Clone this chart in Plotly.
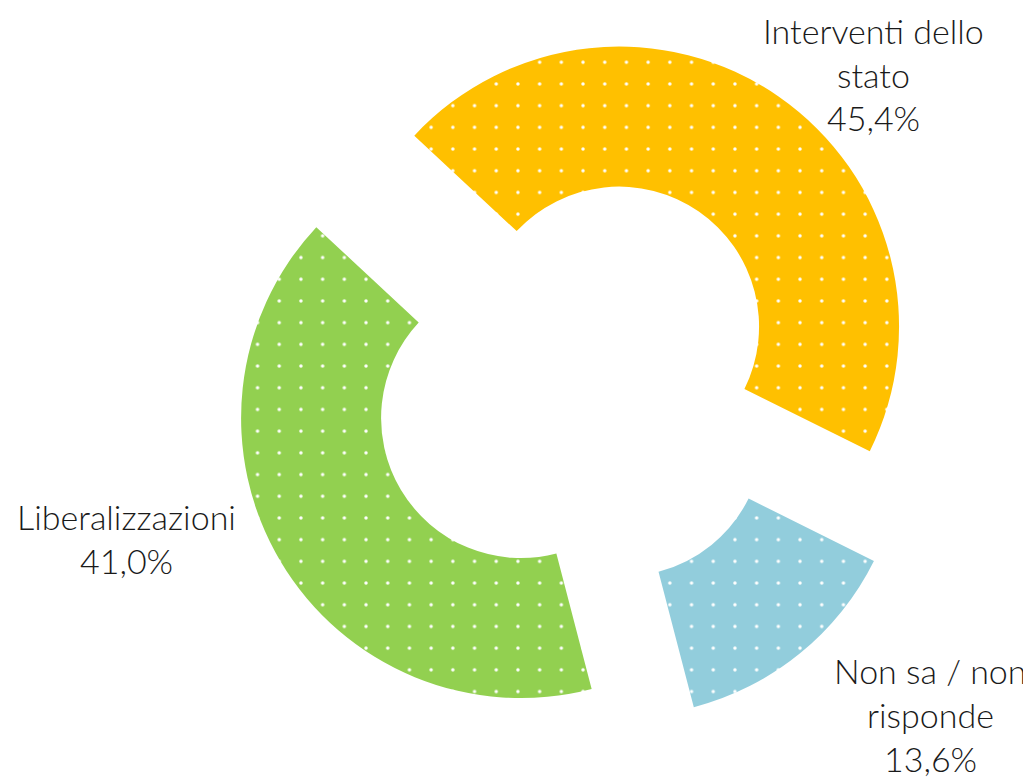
import plotly.graph_objects as go

# ---- data ----
categories = ["Interventi dello stato", "Non sa / non risponde", "Liberalizzazioni"]
label_lines = ["Interventi dello<br>stato", "Non sa / non<br>risponde", "Liberalizzazioni"]
values = [45.4, 13.6, 41.0]
colors = ["#FFC000", "#92CDDC", "#92D050"]

# label block centres (pixels from top-left) and line pitch
label_cx = [865, 922, 118]
label_cy = [66, 706, 530]
line_pitch = 44

W, H = 1031, 782

S = 21.7
r = 1.7
def circ(cx, cy, rad):
    return (f"M{cx - rad:.2f},{cy:.2f} a{rad},{rad} 0 1,0 {2*rad},0 "
            f"a{rad},{rad} 0 1,0 {-2*rad},0 Z")
dot_path = circ(S / 4, S / 4, r) + " " + circ(3 * S / 4, 3 * S / 4, r)

fig = go.Figure()
fig.add_trace(go.Pie(
    labels=categories,
    values=values,
    sort=False,
    direction="clockwise",
    rotation=-47,
    hole=0.5,
    pull=[0.245, 0.245, 0.245],
    textinfo="none",
    hoverinfo="label+percent",
    showlegend=False,
    marker=dict(
        colors=colors,
        line=dict(width=0),
        pattern=dict(shape=".", path=dot_path, size=S, solidity=0.02,
                     fgcolor="white", fgopacity=1.0, fillmode="overlay"),
    ),
    domain=dict(x=[0.2167, 0.8929], y=[0.0747, 0.9663]),
))

for txt, v, cx, cy in zip(label_lines, values, label_cx, label_cy):
    lines = txt.split("<br>") + [f"{v:.1f}%".replace(".", ",")]
    n = len(lines)
    for i, line in enumerate(lines):
        ly = cy + (i - (n - 1) / 2) * line_pitch
        fig.add_annotation(
            x=cx / W, y=1 - ly / H, xref="paper", yref="paper",
            text=line,
            showarrow=False, xanchor="center", yanchor="middle",
            font=dict(family="Lato", size=34, color="#1a1a1a", weight=300),
            borderpad=0,
        )

fig.update_layout(
    width=W, height=H,
    margin=dict(l=0, r=0, t=0, b=0),
    paper_bgcolor="white", plot_bgcolor="white",
)
fig.write_html("out.html")
